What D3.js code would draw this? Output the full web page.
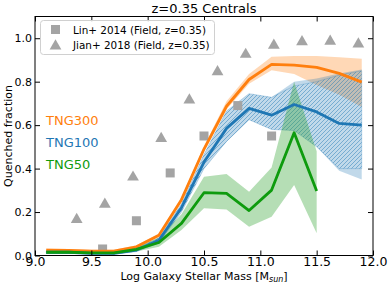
<!DOCTYPE html>
<html><head><meta charset="utf-8">
<script src="https://cdn.jsdelivr.net/npm/d3@7"></script>
<style>body{margin:0;background:#fff}svg{display:block;font-family:"DejaVu Sans",sans-serif}</style>
</head><body><svg id="c" width="390" height="285"></svg>
<script>
// ---- data ----
const massBins = [9.1,9.3,9.5,9.7,9.9,10.1,10.3,10.5,10.7,10.9,11.1,11.3,11.5,11.7,11.9];
const tng300 = [0.025,0.023,0.02,0.02,0.04,0.093,0.257,0.49,0.687,0.81,0.88,0.876,0.866,0.838,0.798];
const tng300Lo = [0.018,0.016,0.014,0.014,0.033,0.085,0.247,0.478,0.672,0.79,0.853,0.835,0.785,0.74,0.684];
const tng300Hi = [0.032,0.03,0.026,0.026,0.047,0.101,0.268,0.503,0.71,0.835,0.915,0.918,0.918,0.912,0.906];
const tng100 = [0.015,0.015,0.01,0.01,0.025,0.07,0.22,0.43,0.585,0.677,0.646,0.695,0.661,0.608,0.60];
const tng100Lo = [0.01,0.01,0.006,0.006,0.018,0.058,0.2,0.40,0.525,0.625,0.58,0.575,0.50,0.39,0.35];
const tng100Hi = [0.02,0.02,0.015,0.015,0.032,0.082,0.238,0.465,0.665,0.745,0.728,0.80,0.815,0.838,0.856];
const tng100HatchLo = [0.01,0.01,0.006,0.006,0.018,0.058,0.2,0.40,0.525,0.625,0.58,0.575,0.50,0.40,0.40];
const tng100HatchHi = [0.02,0.02,0.015,0.015,0.032,0.082,0.238,0.465,0.665,0.745,0.728,0.78,0.80,0.83,0.85];
const massBins50 = [9.1,9.3,9.5,9.7,9.9,10.1,10.3,10.5,10.7,10.9,11.1,11.3,11.5];
const tng50 = [0.015,0.015,0.012,0.012,0.028,0.06,0.148,0.289,0.286,0.207,0.301,0.565,0.297];
const tng50Lo = [0.008,0.008,0.006,0.006,0.018,0.04,0.117,0.217,0.212,0.132,0.178,0.324,0.102];
const tng50Hi = [0.022,0.022,0.018,0.018,0.04,0.082,0.19,0.362,0.375,0.293,0.405,0.80,0.48];
const linMass = [9.6,9.9,10.2,10.5,10.8,11.1];
const linFrac = [0.03,0.16,0.38,0.55,0.69,0.55];
const jianMass = [9.37,9.62,9.87,10.12,10.37,10.62,10.87,11.12,11.37,11.62,11.87];
const jianFrac = [0.17,0.24,0.365,0.543,0.72,0.85,0.93,0.972,0.988,0.99,0.978];
const xTicks = [9.0,9.5,10.0,10.5,11.0,11.5,12.0];
const yTicks = [0.0,0.2,0.4,0.6,0.8,1.0];
const legendLabels = ["Lin+ 2014 (Field, z=0.35)","Jian+ 2018 (Field, z=0.35)"];
const simLabels = ["TNG300","TNG100","TNG50"];

// ---- layout ----
const L=35,R=373,T=16.5,B=255.5;
const svg=d3.select("#c");
const x=d3.scaleLinear().domain([9,12]).range([L,R]);
const y=d3.scaleLinear().domain([0,1.1]).range([B,T]);
const cOr="#ff7f0e",cBl="#1f77b4",cGr="#0e9b0e",cGray="#a4a4a4";

const defs=svg.append("defs");
const pat=defs.append("pattern").attr("id","hatch").attr("patternUnits","userSpaceOnUse").attr("width",4).attr("height",4);
pat.append("path").attr("d","M-1,1 l2,-2 M0,4 l4,-4 M3,5 l2,-2").attr("stroke",cBl).attr("stroke-width",0.55).attr("stroke-opacity",0.85);
defs.append("clipPath").attr("id","clip").append("rect").attr("x",L).attr("y",T).attr("width",R-L).attr("height",B-T);

const g=svg.append("g").attr("clip-path","url(#clip)");
function band(xs,lo,hi){return d3.area().x((d,i)=>x(xs[i])).y0((d,i)=>y(lo[i])).y1((d,i)=>y(hi[i]))(xs);}
function line(xs,v){return d3.line().x((d,i)=>x(xs[i])).y((d,i)=>y(v[i]))(xs);}

g.append("path").attr("d",band(massBins,tng300Lo,tng300Hi)).attr("fill",cOr).attr("fill-opacity",0.3);
g.append("path").attr("d",band(massBins,tng100Lo,tng100Hi)).attr("fill",cBl).attr("fill-opacity",0.28);
g.append("path").attr("d",band(massBins,tng100HatchLo,tng100HatchHi)).attr("fill","url(#hatch)").attr("stroke",cBl).attr("stroke-width",0.5).attr("stroke-opacity",0.5);
g.append("path").attr("d",band(massBins50,tng50Lo,tng50Hi)).attr("fill","#2ca02c").attr("fill-opacity",0.35);

// markers
g.selectAll(".sq").data(linMass).enter().append("rect")
 .attr("x",(d)=>x(d)-4.5).attr("y",(d,i)=>y(linFrac[i])-4.5).attr("width",9).attr("height",9).attr("fill",cGray);
const tri=d3.symbol().type(d3.symbolTriangle).size(60);
g.selectAll(".tr").data(jianMass).enter().append("path")
 .attr("d",tri).attr("transform",(d,i)=>`translate(${x(d)},${y(jianFrac[i])+1})`).attr("fill",cGray);

g.append("path").attr("d",line(massBins,tng300)).attr("fill","none").attr("stroke",cOr).attr("stroke-width",2.8).attr("stroke-linejoin","round");
g.append("path").attr("d",line(massBins,tng100)).attr("fill","none").attr("stroke",cBl).attr("stroke-width",2.8).attr("stroke-linejoin","round");
g.append("path").attr("d",line(massBins50,tng50)).attr("fill","none").attr("stroke",cGr).attr("stroke-width",2.8).attr("stroke-linejoin","round");

// axes
const fmt=d3.format(".1f");
const ax=(sel)=>{sel.select(".domain").remove();sel.selectAll("line").attr("stroke","#000");};
svg.append("g").attr("transform",`translate(0,${B})`).call(d3.axisBottom(x).tickValues(xTicks).tickFormat(fmt).tickSize(-5).tickPadding(1.5))
 .call(ax).selectAll("text").attr("font-size",12.5).attr("fill","#000").attr("font-family","DejaVu Sans");
svg.append("g").attr("transform",`translate(0,${T})`).call(d3.axisTop(x).tickValues(xTicks).tickFormat("").tickSize(-5)).call(ax);
svg.append("g").attr("transform",`translate(${L},0)`).call(d3.axisLeft(y).tickValues(yTicks).tickFormat(fmt).tickSize(-5).tickPadding(3))
 .call(ax).selectAll("text").attr("font-size",11).attr("fill","#000").attr("font-family","DejaVu Sans");
svg.append("g").attr("transform",`translate(${R},0)`).call(d3.axisRight(y).tickValues(yTicks).tickFormat("").tickSize(-5)).call(ax);
svg.append("rect").attr("x",L).attr("y",T).attr("width",R-L).attr("height",B-T).attr("fill","none").attr("stroke","#000").attr("stroke-width",1);

// legend
const lg=svg.append("g");
lg.append("rect").attr("x",40.5).attr("y",20.5).attr("width",174).attr("height",34).attr("rx",3).attr("fill","#fff").attr("fill-opacity",0.8).attr("stroke","#d0d0d0");
lg.append("rect").attr("x",51).attr("y",25).attr("width",9).attr("height",9).attr("fill",cGray);
lg.append("path").attr("d",tri).attr("transform","translate(55.5,46)").attr("fill",cGray);
lg.selectAll(".lt").data(legendLabels).enter().append("text").attr("x",73).attr("y",(d,i)=>33.5+i*15.5)
 .attr("font-size",10.4).attr("fill","#000").text(d=>d);

// sim labels
const simColors=[cOr,cBl,cGr];
svg.selectAll(".sl").data(simLabels).enter().append("text").attr("x",46).attr("y",(d,i)=>125+i*22)
 .attr("font-size",13).attr("fill",(d,i)=>simColors[i]).text(d=>d);

// titles
svg.append("text").attr("x",(L+R)/2).attr("y",13).attr("text-anchor","middle").attr("font-size",13).text("z=0.35 Centrals");
const xl=svg.append("text").attr("x",(L+R)/2).attr("y",280).attr("text-anchor","middle").attr("font-size",11);
xl.append("tspan").text("Log Galaxy Stellar Mass [M");
xl.append("tspan").attr("font-size",8).attr("font-style","italic").attr("dy",2).text("sun");
xl.append("tspan").attr("dy",-2).text("]");
svg.append("text").attr("transform",`translate(12,${(T+B)/2}) rotate(-90)`).attr("text-anchor","middle").attr("font-size",11).text("Quenched fraction");
</script></body></html>
